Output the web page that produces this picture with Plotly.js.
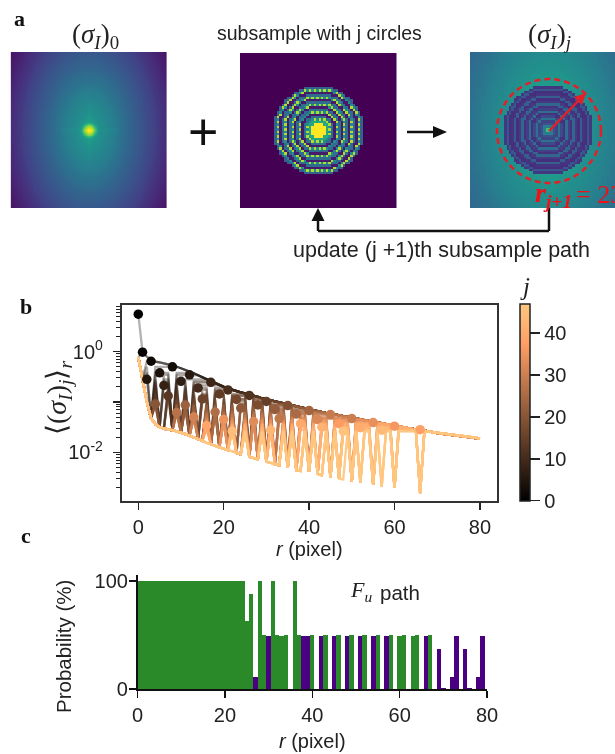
<!DOCTYPE html>
<html>
<head>
<meta charset="utf-8">
<script src="https://cdn.plot.ly/plotly-3.0.1.min.js"></script>
<style>
html,body{margin:0;padding:0;background:#fff;overflow:hidden}
#chart{width:615px;height:754px;filter:blur(0.5px)}
</style>
</head>
<body>
<div id="chart"></div>
<script>
// ---------- data ----------
// upper envelope of <(sigma_I)_j>_r, log10, r = 0..80
const upperLog = [0.746,-0.01,-0.10,-0.17,-0.20,-0.21,-0.23,-0.25,-0.27,-0.30,-0.33,-0.36,-0.39,-0.43,-0.47,-0.51,-0.55,-0.59,-0.62,-0.66,-0.70,-0.73,-0.76,-0.79,-0.81,-0.83,-0.85,-0.88,-0.90,-0.93,-0.95,-0.97,-0.99,-1.01,-1.03,-1.05,-1.07,-1.09,-1.11,-1.13,-1.15,-1.17,-1.18,-1.20,-1.22,-1.23,-1.25,-1.26,-1.28,-1.29,-1.31,-1.33,-1.34,-1.36,-1.38,-1.39,-1.41,-1.42,-1.44,-1.45,-1.47,-1.49,-1.50,-1.52,-1.53,-1.55,-1.56,-1.57,-1.59,-1.60,-1.62,-1.63,-1.64,-1.65,-1.66,-1.67,-1.68,-1.69,-1.70,-1.71,-1.73];
// floor reached once a radius has been sampled, log10, r = 0..66
const lowerLog = [-0.11,-0.53,-1.00,-1.32,-1.44,-1.50,-1.53,-1.55,-1.56,-1.58,-1.61,-1.64,-1.67,-1.70,-1.74,-1.77,-1.81,-1.84,-1.87,-1.90,-1.93,-1.96,-1.98,-2.01,-2.04,-2.06,-2.09,-2.11,-2.14,-2.16,-2.19,-2.21,-2.24,-2.26,-2.28,-2.31,-2.34,-2.36,-2.37,-2.38,-2.39,-2.41,-2.43,-2.46,-2.48,-2.50,-2.51,-2.52,-2.54,-2.56,-2.58,-2.59,-2.60,-2.62,-2.63,-2.65,-2.67,-2.69,-2.70,-2.71,-2.71,-2.73,-2.75,-2.77,-2.78,-2.80,-2.81];
// radius picked at each step j (order) and the value of the curve there (log10)
const pickR = [0,1,3,8,5,2,12,10,6,17,14,21,26,7,19,30,15,23,28,35,4,24,32,11,40,37,18,9,33,45,50,13,42,27,55,20,60,47,66,16,38,52,43,31,57,22,48];
const pickLog = [0.746,-0.01,-0.19,-0.30,-0.42,-0.55,-0.46,-0.59,-0.67,-0.61,-0.72,-0.76,-0.87,-0.88,-0.84,-0.99,-0.94,-0.95,-1.06,-1.07,-1.04,-1.12,-1.15,-1.06,-1.17,-1.24,-1.20,-1.21,-1.33,-1.25,-1.33,-1.30,-1.35,-1.39,-1.41,-1.35,-1.48,-1.43,-1.55,-1.47,-1.43,-1.51,-1.50,-1.56,-1.56,-1.58,-1.58];
// probability per radius, r = 0..80
const probGreen = [100,100,100,100,100,100,100,100,100,100,100,100,100,100,100,100,100,100,100,100,100,100,100,100,100,63,88,0,100,50,0,100,50,49,50,0,100,50,0,0,50,0,0,50,0,0,50,0,0,50,0,0,50,0,0,50,0,0,50,0,49,50,0,49,50,0,0,50,0,0,0,0,0,0,0,0,0,0,0,0,0];
const probPurple = [0,0,0,0,0,0,0,0,0,0,0,0,0,0,0,0,0,0,0,0,0,0,0,0,0,0,0,11,0,0,49,0,0,0,0,0,0,0,49,49,0,0,49,0,0,49,0,0,49,0,0,49,0,0,49,0,0,49,0,0,0,0,0,0,0,0,49,0,0,37,1,0,11,49,0,37,1,0,11,49,0];
const xTicksB = [0,20,40,60,80];
const xTicksC = [0,20,40,60,80];
const yTicksC = [0,100];
const colorbarTicks = [0,10,20,30,40];
// image panels: viridis level against radius (grid cells)
const fieldByRadius = [.6,.58,.56,.54,.52,.5,.49,.48,.47,.46,.45,.44,.43,.42,.41,.39,.38,.37,.36,.35,.33,.32,.31,.3,.29,.28,.27,.26,.25,.24,.23,.22,.21,.2,.19,.17,.16,.15,.14,.13,.12,.11,.1,.09,.08,.07,.06,.05,.04];
const spotByRadius = [1,.97,.8,.6,.45];
const maskByRadius = [1,1,1,1,.6,.88,.35,.07,.88,.35,.07,.88,.35,.07,.88,.35,.07,.88,.3];
const residualByRadius = [.92,.7,.42,.26,.2,.38,.22,.14,.36,.18,.14,.33,.17,.13,.3,.15,.13,.27,.16];

// ---------- helpers ----------
const W = 615, H = 754;
const fx = p => p / W, fy = p => 1 - p / H;
const copperScale = [[0,'rgb(0,0,0)'],[0.8,'rgb(255,159,101)'],[1,'rgb(255,199,127)']];
const copper = (t, a) => `rgba(${Math.round(Math.min(255,318.75*t))},${Math.round(199.2*t)},${Math.round(126.9*t)},${a})`;
const pow10 = v => Math.pow(10, v);
const N = 64, c0 = 31.5;
const rr = [...Array(upperLog.length).keys()];
const lookup = (t, i) => t[Math.min(t.length - 1, Math.max(0, i))];
const blend = (t, v) => { const i = Math.floor(v), f = v - i; return lookup(t, i) * (1 - f) + lookup(t, i + 1) * f; };

function grid(fn) {
  const z = [];
  for (let i = 0; i < N; i++) { const row = []; for (let k = 0; k < N; k++) row.push(fn(k - c0, i - c0, i, k)); z.push(row); }
  return z;
}
function field(dx, dy) {
  let v = blend(fieldByRadius, Math.hypot(1.25 * dx, 0.8 * dy));
  const r = Math.hypot(dx, dy);
  if (r < spotByRadius.length - 1) v = Math.max(v, blend(spotByRadius, r));
  if ((Math.abs(dy) < 1 || Math.abs(dx) < 1) && r < 12) v += 0.015;
  return v;
}
const z0 = grid(field);
const zMask = grid((dx, dy, i, k) => {
  const r = Math.round(Math.hypot(dx, dy));
  if (r >= maskByRadius.length) return 0;
  const v = maskByRadius[r];
  return (r > 4 && v > 0.8 && (i + k) % 2) ? 0.48 : v;
});
const zSub = grid((dx, dy) => {
  const r = Math.round(Math.hypot(dx, dy));
  if (r < residualByRadius.length) return residualByRadius[r];
  return 0.3 + 0.62 * blend(fieldByRadius, Math.hypot(1.25 * dx, 0.8 * dy));
});

// ---------- traces ----------
const traces = [];
const vir = {type:'heatmap', colorscale:'Viridis', zmin:0, zmax:1, showscale:false, hoverinfo:'skip'};
traces.push(Object.assign({}, vir, {z:z0, xaxis:'x3', yaxis:'y3', zsmooth:'best'}));
traces.push(Object.assign({}, vir, {z:zMask, xaxis:'x4', yaxis:'y4'}));
traces.push(Object.assign({}, vir, {z:zSub, xaxis:'x5', yaxis:'y5'}));

for (let j = 0; j <= pickR.length; j++) {
  const cap = pickLog[Math.min(j, pickR.length - 1)];
  const done = new Set(pickR.slice(0, j));
  const y = rr.map(r => pow10(done.has(r) ? lowerLog[r] : Math.min(upperLog[r], cap)));
  traces.push({x:rr, y, mode:'lines', xaxis:'x', yaxis:'y', showlegend:false, hoverinfo:'skip',
    line:{color:copper(j / 47, 0.3 + 0.62 * j / 47), width:2.3}});
}
traces.push({x:pickR, y:pickLog.map(pow10), mode:'markers', xaxis:'x', yaxis:'y', showlegend:false,
  marker:{size:9.5, color:pickR.map((_, j) => j), cmin:0, cmax:47, colorscale:copperScale, line:{width:0},
    colorbar:{x:fx(520), xanchor:'left', xref:'paper', y:fy(500.7), yanchor:'bottom', yref:'paper', lenmode:'pixels', len:196.7,
      thickness:10, thicknessmode:'pixels', xpad:0, ypad:0, outlinecolor:'#222', outlinewidth:1.5,
      tickmode:'array', tickvals:colorbarTicks, ticks:'outside', ticklen:10, tickwidth:1.5, tickcolor:'#222',
      tickfont:{family:'Liberation Sans', size:20, color:'#222'}}}});
traces.push({type:'bar', x:rr, y:probPurple, width:1, marker:{color:'#4B0082', line:{width:0}}, xaxis:'x2', yaxis:'y2', showlegend:false, hoverinfo:'skip'});
traces.push({type:'bar', x:rr, y:probGreen, width:1, marker:{color:'#2A8A2A', line:{width:0}}, xaxis:'x2', yaxis:'y2', showlegend:false, hoverinfo:'skip'});

// ---------- layout ----------
const sans = 'Liberation Sans', serif = 'Liberation Serif';
const note = (x, y, text, size, o = {}) => Object.assign({xref:'paper', yref:'paper', x:fx(x), y:fy(y), text, showarrow:false,
  xanchor:'center', yanchor:'middle', font:{family:sans, size, color:'#222'}}, o);
const poly = pts => 'M ' + pts.map(p => fx(p[0]) + ' ' + fy(p[1])).join(' L ') + ' Z';
const seg = (x0, y0, x1, y1, color = '#111', width = 2.5, dash = 'solid') => ({type:'line', xref:'paper', yref:'paper',
  x0:fx(x0), y0:fy(y0), x1:fx(x1), y1:fy(y1), line:{color, width, dash}});
const tri = (pts, color = '#111') => ({type:'path', xref:'paper', yref:'paper', path:poly(pts), fillcolor:color, line:{width:0}});
const imgAxis = (dom, range) => ({domain:dom, range, showgrid:false, zeroline:false, showticklabels:false, ticks:'', showline:false});

const layout = {
  width:W, height:H, margin:{l:0, r:0, t:0, b:0, autoexpand:false}, paper_bgcolor:'#fff', plot_bgcolor:'#fff',
  barmode:'overlay', bargap:0, showlegend:false,
  xaxis:{domain:[fx(121.5), fx(497)], range:[-3.93, 84], anchor:'y', tickmode:'array', tickvals:xTicksB,
    showline:true, mirror:true, linecolor:'#333', linewidth:1.6, ticks:'outside', ticklen:7, tickwidth:1.4, tickcolor:'#222',
    showgrid:false, zeroline:false, tickfont:{family:sans, size:20, color:'#222'},
    title:{text:'<i>r</i> (pixel)', font:{family:sans, size:20, color:'#222'}, standoff:5}},
  yaxis:{domain:[fy(501), fy(305)], type:'log', range:[-2.968, 0.928], anchor:'x', tickmode:'array',
    tickvals:[1, 0.1, 0.01], ticktext:['10<sup>0</sup>', '', '10<sup>-2</sup>'], ticklabelstandoff:6,
    minor:{ticks:'outside', ticklen:4, tickwidth:1, tickcolor:'#222', tickmode:'array',
      tickvals:[2,3,4,5,6,7,8,9].flatMap(m => [m, m / 10, m / 100, m / 1000])},
    showline:true, mirror:true, linecolor:'#333', linewidth:1.6, ticks:'outside', ticklen:7, tickwidth:1.4, tickcolor:'#222',
    showgrid:false, zeroline:false, tickfont:{family:sans, size:20, color:'#222'}},
  xaxis2:{domain:[fx(137.5), fx(487)], range:[0, 80], anchor:'y2', tickmode:'array', tickvals:xTicksC,
    showline:true, linecolor:'#111', linewidth:1.6, ticks:'outside', ticklen:7, tickwidth:1.4, tickcolor:'#111',
    showgrid:false, zeroline:false, tickfont:{family:sans, size:20, color:'#222'},
    title:{text:'<i>r</i> (pixel)', font:{family:sans, size:20, color:'#222'}, standoff:9}},
  yaxis2:{domain:[fy(689), fy(575)], range:[0, 105.6], anchor:'x2', tickmode:'array', tickvals:yTicksC, ticklabelstandoff:-3,
    showline:true, linecolor:'#111', linewidth:1.6, ticks:'outside', ticklen:7, tickwidth:1.4, tickcolor:'#111',
    showgrid:false, zeroline:false, tickfont:{family:sans, size:20, color:'#222'}},
  xaxis3:Object.assign(imgAxis([fx(10.6), fx(167)], [-0.5, 63.5]), {anchor:'y3'}),
  yaxis3:Object.assign(imgAxis([fy(208), fy(52)], [-0.5, 63.5]), {anchor:'x3'}),
  xaxis4:Object.assign(imgAxis([fx(240), fx(396.5)], [-0.5, 63.5]), {anchor:'y4'}),
  yaxis4:Object.assign(imgAxis([fy(208), fy(53)], [-0.5, 63.5]), {anchor:'x4'}),
  xaxis5:Object.assign(imgAxis([fx(470), 1], [-0.5, 59]), {anchor:'y5'}),
  yaxis5:Object.assign(imgAxis([fy(208), fy(52)], [-0.5, 63.5]), {anchor:'x5'}),
  annotations:[
    note(19, 19, '<b>a</b>', 20, {font:{family:serif, size:22, color:'#111'}}),
    note(26, 306, '<b>b</b>', 20, {font:{family:serif, size:22, color:'#111'}}),
    note(26, 535, '<b>c</b>', 20, {font:{family:serif, size:22, color:'#111'}}),
    note(95, 36, '(<i>σ<sub>I</sub></i>)<sub>0</sub>', 27, {font:{family:serif, size:27, color:'#222'}}),
    note(549, 36, '(<i>σ<sub>I</sub></i>)<sub><i>j</i></sub>', 27, {font:{family:serif, size:27, color:'#222'}}),
    note(319.5, 33, 'subsample with j circles', 19.5),
    note(203, 132, '+', 52, {font:{family:sans, size:52, color:'#111'}}),
    note(441.5, 250, 'update (j +1)th subsample path', 21.5),
    note(58, 398, '⟨(<i>σ<sub>I</sub></i>)<sub><i>j</i></sub>⟩<sub><i>r</i></sub>', 28, {textangle:-90, font:{family:serif, size:28, color:'#222'}}),
    note(63, 646, 'Probability (%)', 20.5, {textangle:-90}),
    note(533, 194, '<b><i>r<sub>j+1</sub></i></b>', 28, {xanchor:'left', font:{family:serif, size:28, color:'#F01018'}}),
    note(574, 194, '= 23', 26, {xanchor:'left', font:{family:serif, size:26, color:'#F01018'}}),
    note(361, 591, '<i>F<sub>u</sub></i>', 22, {font:{family:serif, size:22, color:'#222'}}),
    note(378, 592, 'path', 20.5, {xanchor:'left', font:{family:sans, size:20.5, color:'#222'}}),
    note(525, 287, '<i>j</i>', 25, {font:{family:serif, size:25, color:'#222'}})
  ],
  shapes:[
    seg(407, 132, 436, 132),
    tri([[447,132],[433,126],[433,138]]),
    seg(549, 208, 549, 231),
    seg(549, 231, 318, 231),
    seg(318, 231, 318, 218),
    tri([[318,208],[311.5,221],[324.5,221]]),
    {type:'circle', xref:'paper', yref:'paper', x0:fx(497), x1:fx(601), y0:fy(79), y1:fy(183), line:{color:'#E3202A', width:2.5, dash:'6px,4px'}},
    seg(549, 131, 581, 98, '#E3202A', 2.5),
    tri([[586,93],[574,97],[582,105]], '#E3202A')
  ]
};
Plotly.newPlot('chart', traces, layout, {staticPlot:true, displayModeBar:false});
</script>
</body>
</html>
